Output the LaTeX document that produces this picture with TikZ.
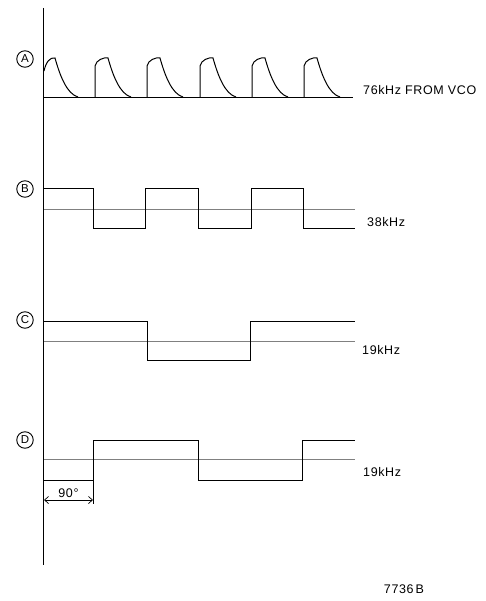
\documentclass[tikz,border=0pt]{standalone}
\usepackage{fontspec}
\setmainfont{Liberation Sans}
\usetikzlibrary{arrows.meta,positioning}

\begin{document}
\begin{tikzpicture}[
    x=1pt, y=-1pt,
    font=\fontsize{12.5}{14}\selectfont\addfontfeatures{LetterSpace=5},
    marca/.style={draw, circle, line width=0.9pt, minimum size=16.5pt, inner sep=0pt,
      font=\fontsize{11.5}{13}\selectfont},
    onda/.style={line width=1pt, line join=miter},
    base/.style={line width=0.8pt},
    ref/.style={gray, line width=0.4pt},
    etiq/.style={anchor=west, inner sep=0pt},
    cota/.style={{Straight Barb[length=4pt,width=7pt]}-{Straight Barb[length=4pt,width=7pt]}, line width=0.7pt}
  ]
  \useasboundingbox (0,0) rectangle (485,601);
  % eje vertical
  \draw[line width=0.9pt] (43,8) -- (43,565);

  % A: 76 kHz
  \node[marca] (mA) at (25,59) {A};
  \draw[base] (44,97) -- (353,97);
  \draw[onda] (44,71) .. controls (46,62) and (50,57) .. (55,58)
    .. controls (60,76) and (67,94) .. (78,97);
  \foreach \x in {95,147,200,252,304}
    \draw[onda] (\x,97) -- (\x,66) .. controls ({\x+1},60) and ({\x+9},57) .. ({\x+13},58)
      .. controls ({\x+18},76) and ({\x+25},94) .. ({\x+36},97);
  \node[etiq] (fA) at (363,90) {76kHz FROM VCO};

  % B: 38 kHz
  \node[marca] (mB) at (25,189) {B};
  \draw[ref] (44,209) -- (355,209);
  \draw[onda] (44,189) -- (93,189) -- (93,229) -- (145,229) -- (145,189) -- (198,189)
    -- (198,229) -- (251,229) -- (251,189) -- (303,189) -- (303,229) -- (355,229);
  \node[etiq] (fB) at (367,222) {38kHz};

  % C: 19 kHz
  \node[marca] (mC) at (25,320) {C};
  \draw[ref] (44,341) -- (355,341);
  \draw[onda] (44,321) -- (147,321) -- (147,360) -- (250,360) -- (250,321) -- (355,321);
  \node[etiq] (fC) at (362,350) {19kHz};

  % D: 19 kHz desfasada
  \node[marca] (mD) at (25,440) {D};
  \draw[ref] (44,459) -- (355,459);
  \draw[onda] (44,480) -- (93,480) -- (93,440) -- (198,440) -- (198,480) -- (302,480)
    -- (302,440) -- (355,440);
  \node[etiq] (fD) at (363,472) {19kHz};

  % cota de 90 grados
  \coordinate (c1) at (44,500);
  \coordinate (c2) at (93,500);
  \draw[line width=0.7pt] (93,480) -- (93,504);
  \draw[cota] (c1) -- node[above=1pt, inner sep=1pt] (ang) {90°} (c2);

  \node (fig) at (404,589) {7736\,B};
\end{tikzpicture}
\end{document}
